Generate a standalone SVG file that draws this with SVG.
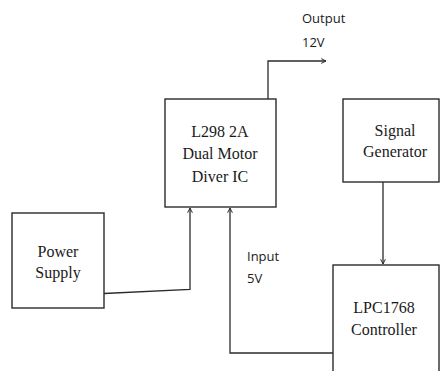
<svg xmlns="http://www.w3.org/2000/svg" width="440" height="371" viewBox="0 0 440 371">
<style>
.box{fill:#fff;stroke:#2b2b2b;stroke-width:1.4}
.wire{fill:none;stroke:#2b2b2b;stroke-width:1.3}
.t{font-family:"Liberation Serif","Times New Roman",serif;font-size:16px;fill:#1a1a1a;text-anchor:middle}
.s{font-family:"Open Sans","Liberation Sans",sans-serif;font-size:13px;fill:#1a1a1a}
</style>
<defs>
<marker id="arr" viewBox="0 0 10 10" refX="9" refY="5" markerWidth="6" markerHeight="6" markerUnits="userSpaceOnUse" orient="auto">
<path d="M1,1 L9,5 L1,9" fill="none" stroke="#2b2b2b" stroke-width="1.6"/>
</marker>
</defs>
<rect width="440" height="371" fill="#fff"/>
<g id="connectors">
<path class="wire" d="M268,99 V61 H326" marker-end="url(#arr)"/>
<path class="wire" d="M104,293.5 L190,289.5 V208" marker-end="url(#arr)"/>
<path class="wire" d="M333,353 H230 V208" marker-end="url(#arr)"/>
<path class="wire" d="M383,182 V264" marker-end="url(#arr)"/>
</g>
<g id="l298">
<rect class="box" x="165" y="99" width="111" height="108"/>
<text class="t" x="220" y="137">L298 2A</text>
<text class="t" x="220" y="159">Dual Motor</text>
<text class="t" x="220" y="182">Diver IC</text>
</g>
<g id="power">
<rect class="box" x="12" y="213" width="92" height="95"/>
<text class="t" x="58" y="257">Power</text>
<text class="t" x="58" y="278">Supply</text>
</g>
<g id="signal">
<rect class="box" x="343" y="99" width="96" height="83"/>
<text class="t" x="395" y="136">Signal</text>
<text class="t" x="395" y="157">Generator</text>
</g>
<g id="lpc">
<rect class="box" x="333" y="265" width="106" height="115"/>
<text class="t" x="384" y="313">LPC1768</text>
<text class="t" x="384" y="335">Controller</text>
</g>
<g id="labels">
<text class="s" x="302" y="23">Output</text>
<text class="s" x="302" y="47">12V</text>
<text class="s" x="247" y="261">Input</text>
<text class="s" x="247" y="283">5V</text>
</g>
</svg>
